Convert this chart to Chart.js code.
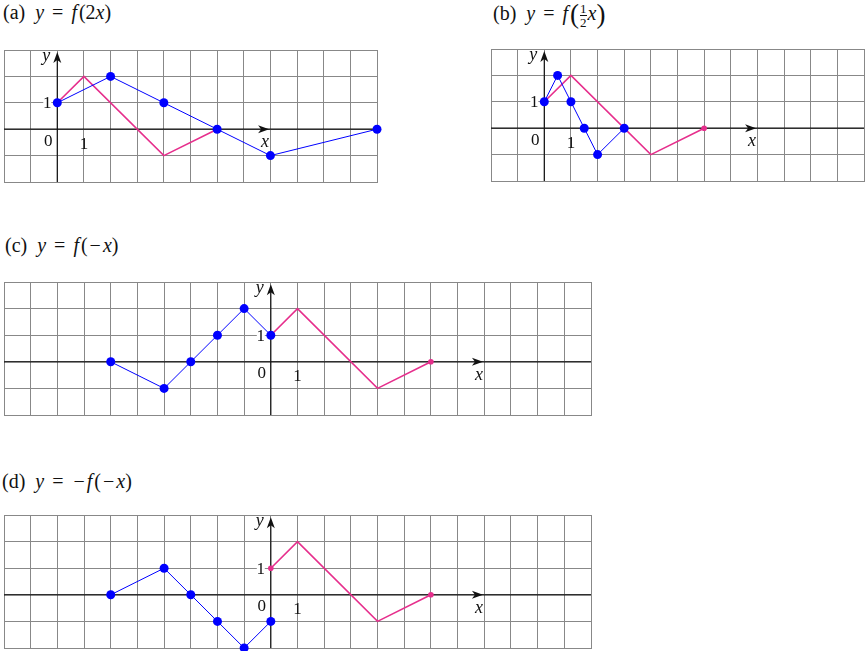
<!DOCTYPE html>
<html>
<head>
<meta charset="utf-8">
<script src="https://cdn.jsdelivr.net/npm/chart.js@4"></script>
<style>
  body { margin: 0; background: #fff; width: 865px; height: 651px; position: relative; overflow: hidden;
         font-family: "Liberation Serif", "Times New Roman", serif; }
  canvas { position: absolute; }
  .title { position: absolute; font-size: 20px; color: #111; white-space: pre; line-height: 1; }
  .title i { font-style: italic; }
  .eq { margin: 0 3px; }
  .neg { margin: 0 2px; }
  .fn { margin-right: 2px; }
  .frac { display: inline-flex; flex-direction: column; vertical-align: middle; font-size: 13px;
          line-height: 1; text-align: center; margin: 0 1px; }
  .frac span:first-child { border-bottom: 1px solid #111; }
  .big { font-size: 27px; vertical-align: -3px; }
</style>
</head>
<body>
<div class="title" style="left:3px; top:2px;">(a)  <i>y</i> <span class="eq">=</span> <i class="fn">f</i>(2<i>x</i>)</div>
<div class="title" style="left:493px; top:1px;">(b)  <i>y</i> <span class="eq">=</span> <i class="fn">f</i><span class="big">(</span><span class="frac"><span>1</span><span>2</span></span><i>x</i><span class="big">)</span></div>
<div class="title" style="left:5px; top:235px;">(c)  <i>y</i> <span class="eq">=</span> <i class="fn">f</i>(<span class="neg">−</span><i>x</i>)</div>
<div class="title" style="left:2px; top:471px;">(d)  <i>y</i> <span class="eq">=</span> <span class="neg">−</span><i class="fn">f</i>(<span class="neg">−</span><i>x</i>)</div>

<canvas id="chartA"></canvas>
<canvas id="chartB"></canvas>
<canvas id="chartC"></canvas>
<canvas id="chartD"></canvas>

<script>
// original function f (pink)
const fX = [0, 1, 4, 6];
const fY = [1, 2, -1, 0];

// transformed graphs (blue)
const aX = [0, 2, 4, 6, 8, 12];
const aY = [1, 2, 1, 0, -1, 0];
const bX = [0, 0.5, 1, 1.5, 2, 3];
const bY = [1, 2, 1, 0, -1, 0];
const cX = [-6, -4, -3, -2, -1, 0];
const cY = [0, -1, 0, 1, 2, 1];
const dX = [-6, -4, -3, -2, -1, 0];
const dY = [0, 1, 0, -1, -2, -1];

// axis ranges and labels
const wideRange = [-10, 12];
const narrowRange = [-2, 12];
const yRange = [-2, 3];
const tickOne = '1';
const originLabel = '0';

const PINK = '#e62e8c';
const BLUE = '#0000ff';
const GRID = '#888888';
const PAD = 8;

const toPoints = (xs, ys) => xs.map((v, i) => ({ x: v, y: ys[i] }));

const axesPlugin = {
  id: 'axes',
  beforeDatasetsDraw(chart) {
    const { ctx, chartArea: a, scales: { x, y } } = chart;
    const x0 = x.getPixelForValue(0);
    const y0 = y.getPixelForValue(0);
    const x1 = x.getPixelForValue(1);
    const yy1 = y.getPixelForValue(1);
    const xTip = x.getPixelForValue(7.95);
    const yTip = y.getPixelForValue(2.92);

    ctx.save();
    ctx.strokeStyle = '#111';
    ctx.fillStyle = '#111';
    ctx.lineWidth = 1.2;
    ctx.beginPath();
    ctx.moveTo(a.left, y0);
    ctx.lineTo(a.right, y0);
    ctx.moveTo(x0, a.bottom);
    ctx.lineTo(x0, yTip + 4);
    ctx.stroke();

    // arrow heads
    ctx.beginPath();
    ctx.moveTo(xTip, y0);
    ctx.lineTo(xTip - 11, y0 - 4);
    ctx.lineTo(xTip - 8, y0);
    ctx.lineTo(xTip - 11, y0 + 4);
    ctx.closePath();
    ctx.fill();
    ctx.beginPath();
    ctx.moveTo(x0, yTip);
    ctx.lineTo(x0 - 4, yTip + 11);
    ctx.lineTo(x0, yTip + 8);
    ctx.lineTo(x0 + 4, yTip + 11);
    ctx.closePath();
    ctx.fill();

    ctx.textAlign = 'center';
    ctx.textBaseline = 'middle';
    ctx.font = '17px "Liberation Serif", serif';
    // "1" on the y axis, with a white patch behind it
    ctx.fillStyle = '#fff';
    ctx.fillRect(x0 - 14, yy1 - 6, 8, 12);
    ctx.fillStyle = '#111';
    ctx.fillText(tickOne, x0 - 10, yy1 + 1);
    ctx.fillText(originLabel, x0 - 9, y0 + 12);
    ctx.fillText(tickOne, x1, y0 + 15);

    ctx.font = 'italic 18px "Liberation Serif", serif';
    ctx.fillText('y', x0 - 11, a.top + 6);
    ctx.fillText('x', xTip - 4, y0 + 13);
    ctx.restore();
  }
};

function makePanel(id, box, xRange, blueX, blueY) {
  const canvas = document.getElementById(id);
  const w = box.right - box.left;
  const h = box.bottom - box.top;
  canvas.width = Math.round(w + 2 * PAD);
  canvas.height = Math.round(h + 2 * PAD);
  canvas.style.left = (box.left - PAD) + 'px';
  canvas.style.top = (box.top - PAD) + 'px';

  const lastF = fX.length - 1;
  return new Chart(canvas.getContext('2d'), {
    type: 'scatter',
    data: {
      datasets: [
        {
          data: toPoints(blueX, blueY),
          showLine: true,
          borderColor: BLUE,
          borderWidth: 1,
          backgroundColor: BLUE,
          pointRadius: 4.5,
          pointBorderWidth: 0,
          clip: false
        },
        {
          data: toPoints(fX, fY),
          showLine: true,
          borderColor: PINK,
          borderWidth: 1.6,
          backgroundColor: PINK,
          pointRadius: (c) => (c.dataIndex === 0 || c.dataIndex === lastF) ? 2.8 : 0,
          pointBorderWidth: 0,
          clip: false
        }
      ]
    },
    options: {
      responsive: false,
      animation: false,
      events: [],
      layout: { padding: PAD },
      plugins: { legend: { display: false }, tooltip: { enabled: false } },
      scales: {
        x: {
          type: 'linear',
          min: xRange[0],
          max: xRange[1],
          ticks: { display: false, stepSize: 1 },
          grid: { color: GRID, lineWidth: 1, drawTicks: false },
          border: { display: true, color: GRID, width: 1 }
        },
        y: {
          type: 'linear',
          min: yRange[0],
          max: yRange[1],
          ticks: { display: false, stepSize: 1 },
          grid: { color: GRID, lineWidth: 1, drawTicks: false },
          border: { display: true, color: GRID, width: 1 }
        }
      }
    },
    plugins: [axesPlugin]
  });
}

makePanel('chartA', { left: 4, right: 377.3, top: 50, bottom: 182 }, narrowRange, aX, aY);
makePanel('chartB', { left: 491, right: 863.5, top: 49.3, bottom: 181 }, narrowRange, bX, bY);
makePanel('chartC', { left: 4, right: 591.4, top: 282.3, bottom: 415.7 }, wideRange, cX, cY);
makePanel('chartD', { left: 4, right: 591.4, top: 515, bottom: 647.5 }, wideRange, dX, dY);
</script>
</body>
</html>
